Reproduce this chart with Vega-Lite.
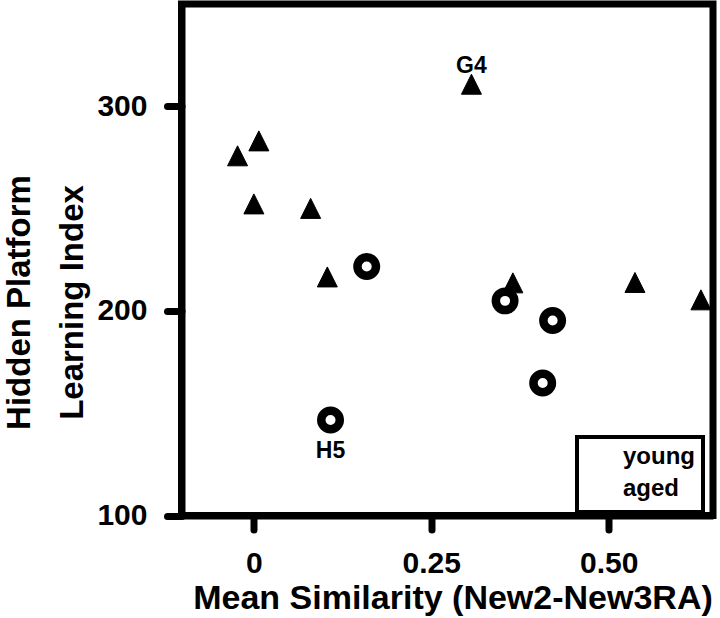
{
  "$schema": "https://vega.github.io/schema/vega-lite/v6.json",
  "width": 531.5,
  "height": 511.5,
  "autosize": {"type": "none"},
  "padding": {"left": 181.5, "top": 4, "right": 7, "bottom": 102.5},
  "background": "white",
  "config": {
    "view": {"stroke": "black", "strokeWidth": 7},
    "font": "Liberation Sans",
    "legend": {"strokeWidth": 4}
  },
  "data": {
    "values": [
      {"similarity": -0.023, "index": 275.8, "group": "aged", "label": ""},
      {"similarity": 0.007, "index": 283.1, "group": "aged", "label": ""},
      {"similarity": 0.0, "index": 252.3, "group": "aged", "label": ""},
      {"similarity": 0.080, "index": 250.1, "group": "aged", "label": ""},
      {"similarity": 0.1035, "index": 216.6, "group": "aged", "label": ""},
      {"similarity": 0.3066, "index": 310.8, "group": "aged", "label": "G4"},
      {"similarity": 0.365, "index": 213.7, "group": "aged", "label": ""},
      {"similarity": 0.537, "index": 213.9, "group": "aged", "label": ""},
      {"similarity": 0.630, "index": 205.4, "group": "aged", "label": ""},
      {"similarity": 0.159, "index": 221.7, "group": "young", "label": ""},
      {"similarity": 0.108, "index": 146.7, "group": "young", "label": "H5"},
      {"similarity": 0.354, "index": 204.9, "group": "young", "label": ""},
      {"similarity": 0.421, "index": 195.3, "group": "young", "label": ""},
      {"similarity": 0.407, "index": 164.8, "group": "young", "label": ""}
    ]
  },
  "encoding": {
    "x": {
      "field": "similarity",
      "type": "quantitative",
      "scale": {"domain": [-0.102, 0.647], "nice": false, "zero": false},
      "axis": {
        "values": [0, 0.25, 0.5],
        "labelExpr": "datum.value == 0 ? '0' : format(datum.value, '.2f')",
        "title": "Mean Similarity (New2-New3RA)",
        "grid": false,
        "domainWidth": 7,
        "domainColor": "black",
        "tickColor": "black",
        "tickWidth": 7,
        "tickSize": 14,
        "tickCap": "round",
        "labelFont": "Liberation Sans",
        "labelFontSize": 30,
        "labelFontWeight": "bold",
        "labelColor": "black",
        "labelBaseline": "alphabetic",
        "labelPadding": 42.5,
        "labelFlush": false,
        "labelOverlap": false,
        "titleFont": "Liberation Sans",
        "titleFontSize": 34,
        "titleFontWeight": "bold",
        "titleColor": "black",
        "titleBaseline": "alphabetic",
        "titleAlign": "center",
        "titleX": 271,
        "titleY": 92.5
      }
    },
    "y": {
      "field": "index",
      "type": "quantitative",
      "scale": {"domain": [100, 350], "nice": false, "zero": false},
      "axis": {
        "values": [100, 200, 300],
        "title": ["Hidden Platform", "Learning Index"],
        "grid": false,
        "domainWidth": 7,
        "domainColor": "black",
        "tickColor": "black",
        "tickWidth": 7,
        "tickSize": 14.5,
        "tickCap": "round",
        "labelFont": "Liberation Sans",
        "labelFontSize": 30,
        "labelFontWeight": "bold",
        "labelColor": "black",
        "labelPadding": 20,
        "labelFlush": false,
        "labelOverlap": false,
        "titleFont": "Liberation Sans",
        "titleFontSize": 33,
        "titleFontWeight": "bold",
        "titleColor": "black",
        "titleAngle": -90,
        "titleBaseline": "alphabetic",
        "titleAlign": "center",
        "titleLineHeight": 53,
        "titleX": -152,
        "titleY": 298
      }
    }
  },
  "layer": [
    {
      "mark": {"type": "point", "filled": true, "stroke": "black", "opacity": 1},
      "encoding": {
        "shape": {
          "field": "group",
          "type": "nominal",
          "scale": {"domain": ["young", "aged"], "range": ["circle", "M0,-1L-1,1L1,1Z"]},
          "legend": {
            "title": null,
            "orient": "none",
            "legendX": 395.5,
            "legendY": 433,
            "strokeColor": "black",
            "fillColor": "white",
            "padding": 8,
            "labelFontSize": 24,
            "labelFontWeight": "bold",
            "labelColor": "black",
            "labelOffset": 11,
            "rowPadding": 2,
            "symbolOffset": 3,
            "symbolSize": 85,
            "symbolStrokeWidth": 5,
            "symbolStrokeColor": "black",
            "labelExpr": "datum.label + '          '"
          }
        },
        "fill": {
          "condition": {"test": "datum.group == 'aged'", "value": "black"},
          "value": "white"
        },
        "size": {
          "condition": {"test": "datum.group == 'young'", "value": 342},
          "value": 400
        },
        "strokeWidth": {
          "condition": {"test": "datum.group == 'young'", "value": 8.5},
          "value": 1
        }
      }
    },
    {
      "transform": [{"filter": "datum.label == 'G4'"}],
      "mark": {"type": "text", "font": "Liberation Sans", "fontSize": 23, "fontWeight": "bold", "color": "black", "baseline": "alphabetic", "align": "center", "dy": -11},
      "encoding": {"text": {"field": "label"}}
    },
    {
      "transform": [{"filter": "datum.label == 'H5'"}],
      "mark": {"type": "text", "font": "Liberation Sans", "fontSize": 23, "fontWeight": "bold", "color": "black", "baseline": "alphabetic", "align": "center", "dy": 38},
      "encoding": {"text": {"field": "label"}}
    }
  ]
}
